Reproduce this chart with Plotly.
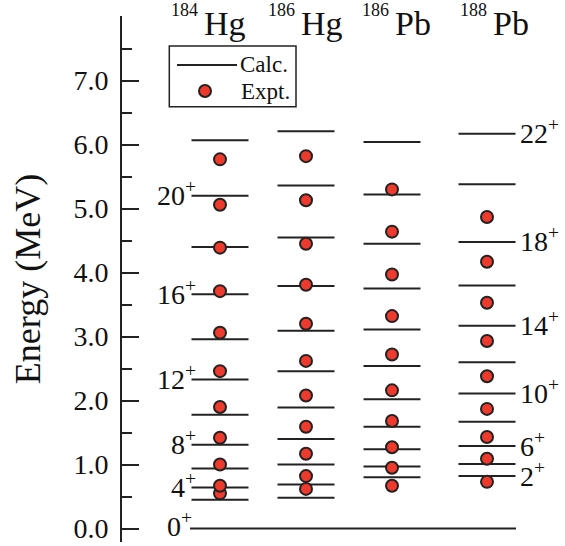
import plotly.graph_objects as go

# ---------------- data (MeV) ----------------
mass_numbers = ["184", "186", "186", "188"]
elements = ["Hg", "Hg", "Pb", "Pb"]
spins = [2, 4, 6, 8, 10, 12, 14, 16, 18, 20, 22]

hg184_calc = [0.45, 0.64, 0.94, 1.31, 1.78, 2.33, 2.96, 3.66, 4.40, 5.20, 6.07]
hg184_expt = [0.55, 0.67, 1.00, 1.42, 1.90, 2.46, 3.06, 3.71, 4.39, 5.06, 5.77]
hg186_calc = [0.48, 0.69, 1.00, 1.40, 1.89, 2.46, 3.09, 3.79, 4.55, 5.36, 6.21]
hg186_expt = [0.62, 0.82, 1.17, 1.59, 2.08, 2.62, 3.20, 3.81, 4.45, 5.13, 5.82]
pb186_calc = [0.80, 0.97, 1.24, 1.59, 2.02, 2.54, 3.11, 3.75, 4.45, 5.22, 6.04]
pb186_expt = [0.67, 0.95, 1.27, 1.68, 2.16, 2.72, 3.32, 3.97, 4.64, 5.30]
pb188_calc = [0.82, 1.01, 1.29, 1.67, 2.11, 2.60, 3.17, 3.80, 4.48, 5.38, 6.17]
pb188_expt = [0.73, 1.09, 1.43, 1.87, 2.38, 2.93, 3.53, 4.17, 4.87]
ground_energy = [0.0]

left_spin_labels = [4, 8, 12, 16, 20]
right_spin_labels = [2, 6, 10, 14, 18, 22]
ytick_vals = [0, 1, 2, 3, 4, 5, 6, 7, 8]
ytick_text = ["0.0", "1.0", "2.0", "3.0", "4.0", "5.0", "6.0", "7.0", ""]
yminor_vals = [0.5, 1.5, 2.5, 3.5, 4.5, 5.5, 6.5, 7.5]

calc = [hg184_calc, hg186_calc, pb186_calc, pb188_calc]
expt = [hg184_expt, hg186_expt, pb186_expt, pb188_expt]

# ---------------- layout constants ----------------
W, H = 565, 546
L, R, T, B = 122, 0, 16, 4
YMIN, YMAX = -0.21, 8.01
COL_X = [220, 306, 392, 487]     # column centres (x-axis units = px)
HALF = 28.5                       # half width of a level line
HEAD_X = [200, 297, 390.5, 489]
GROUND_X = (190, 516)
FONT = "Liberation Serif, Times New Roman, serif"
INK = "#222222"
RED = "#ee3a2c"


def px_x(px):
    return (px - L) / (W - L - R)


def px_y(py):
    return (H - B - py) / (H - T - B)


fig = go.Figure()

for i, cx in enumerate(COL_X):
    xs, ys = [], []
    for e in calc[i]:
        xs += [cx - HALF, cx + HALF, None]
        ys += [e, e, None]
    fig.add_trace(go.Scatter(x=xs, y=ys, mode="lines", name="Calc.",
                             line=dict(color=INK, width=2),
                             showlegend=False, hoverinfo="skip"))

gx, gy = [], []
for e in ground_energy:
    gx += [GROUND_X[0], GROUND_X[1], None]
    gy += [e, e, None]
fig.add_trace(go.Scatter(x=gx, y=gy, mode="lines", line=dict(color=INK, width=2),
                         showlegend=False, hoverinfo="skip"))

for i, cx in enumerate(COL_X):
    fig.add_trace(go.Scatter(x=[cx] * len(expt[i]), y=expt[i], mode="markers",
                             name="Expt.", showlegend=False,
                             marker=dict(size=12, color=RED,
                                         line=dict(color=INK, width=2))))

ann = []
# spin labels
for J in left_spin_labels:
    ann.append(dict(x=198, y=hg184_calc[spins.index(J)], xref="x", yref="y",
                    text=f"{J}<sup>+</sup>", showarrow=False, xanchor="right",
                    yanchor="middle", yshift=2, font=dict(family=FONT, size=28, color="#111")))
ann.append(dict(x=194, y=ground_energy[0], xref="x", yref="y", text="0<sup>+</sup>",
                showarrow=False, xanchor="right", yanchor="middle", yshift=4,
                font=dict(family=FONT, size=28, color="#111")))
for J in right_spin_labels:
    ann.append(dict(x=518, y=pb188_calc[spins.index(J)], xref="x", yref="y",
                    text=f"{J}<sup>+</sup>", showarrow=False, xanchor="left",
                    yanchor="middle", yshift=2, font=dict(family=FONT, size=28, color="#111")))
# headers
for i in range(4):
    ann.append(dict(x=HEAD_X[i], y=px_y(10.2), xref="x", yref="paper", text=mass_numbers[i],
                    showarrow=False, xanchor="right", yanchor="middle",
                    font=dict(family=FONT, size=18, color="#111")))
    ann.append(dict(x=HEAD_X[i] + 2, y=px_y(23.5), xref="x", yref="paper", text=elements[i],
                    showarrow=False, xanchor="left", yanchor="middle",
                    font=dict(family=FONT, size=34, color="#111")))
# legend texts
ann.append(dict(x=px_x(238), y=px_y(64), xref="paper", yref="paper", text="Calc.",
                showarrow=False, xanchor="left", yanchor="middle",
                font=dict(family=FONT, size=23, color="#111")))
ann.append(dict(x=px_x(239), y=px_y(91.5), xref="paper", yref="paper", text="Expt.",
                showarrow=False, xanchor="left", yanchor="middle",
                font=dict(family=FONT, size=23, color="#111")))

shapes = [
    dict(type="rect", xref="paper", yref="paper", x0=px_x(169.3), x1=px_x(296),
         y0=px_y(106.7), y1=px_y(46), line=dict(color=INK, width=1.5)),
    dict(type="line", xref="paper", yref="paper", x0=px_x(177), x1=px_x(237),
         y0=px_y(65), y1=px_y(65), line=dict(color=INK, width=2)),
    dict(type="circle", xref="paper", yref="paper", x0=px_x(199), x1=px_x(211),
         y0=px_y(97), y1=px_y(85), fillcolor=RED, line=dict(color=INK, width=2)),
]

fig.update_layout(
    width=W, height=H,
    margin=dict(l=L, r=R, t=T, b=B, pad=0),
    paper_bgcolor="white", plot_bgcolor="white",
    showlegend=False,
    annotations=ann, shapes=shapes,
    font=dict(family=FONT, color="#111"),
    xaxis=dict(range=[L, W - R], visible=False, fixedrange=True),
    yaxis=dict(range=[YMIN, YMAX], showline=True, linecolor=INK, linewidth=2,
               showgrid=False, zeroline=False,
               ticks="inside", ticklen=17, tickwidth=2, tickcolor=INK,
               tickvals=ytick_vals, ticktext=ytick_text,
               tickfont=dict(family=FONT, size=28, color="#111"),
               ticklabelstandoff=6,
               minor=dict(tickvals=yminor_vals, ticks="inside", ticklen=10,
                          tickwidth=2, tickcolor=INK, showgrid=False),
               title=dict(text="Energy (MeV)", standoff=22,
                          font=dict(family=FONT, size=36, color="#111")),
               automargin=False),
)

fig.write_html("out.html")
